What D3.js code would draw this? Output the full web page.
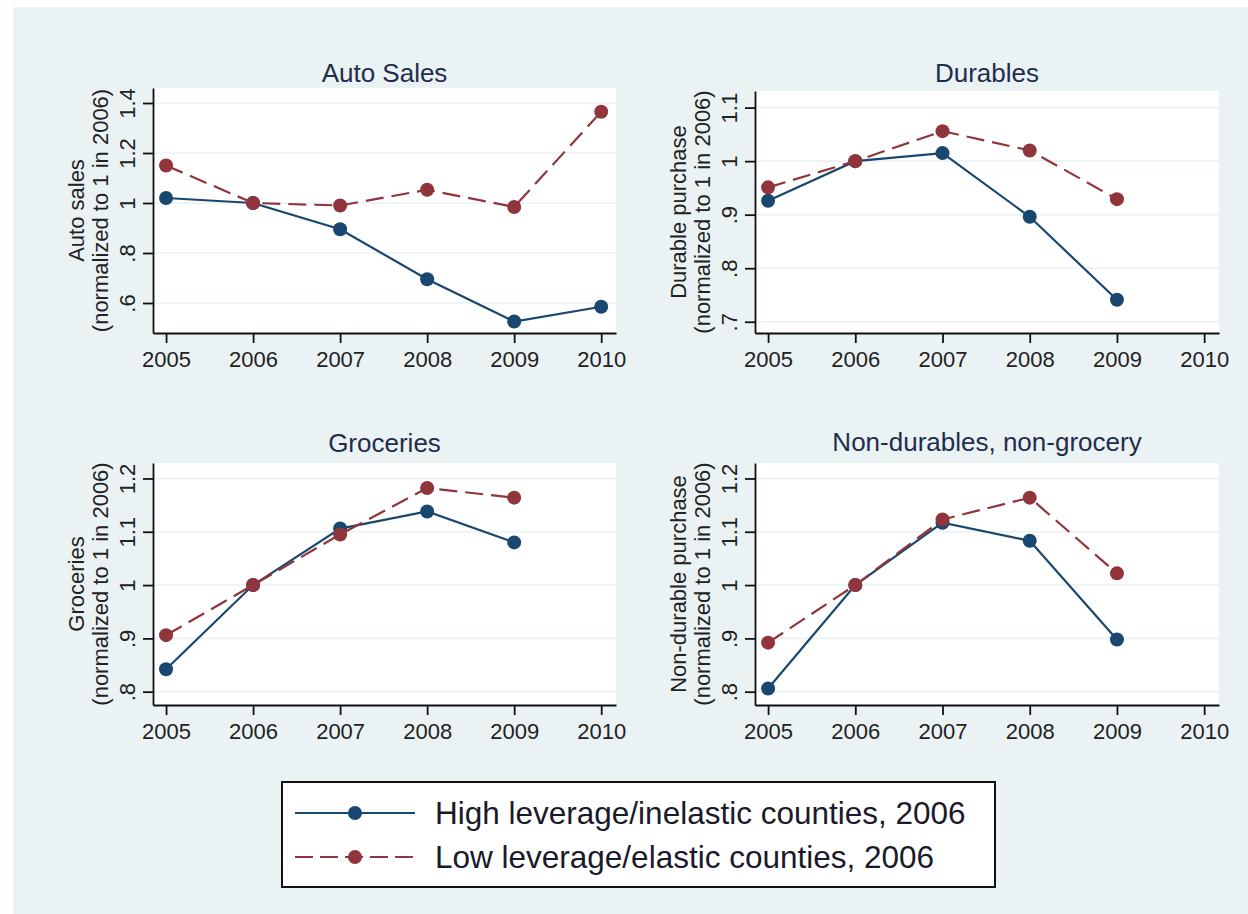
<!DOCTYPE html>
<html>

<head>
    <script src='https://d3js.org/d3.v7.min.js'></script>
    <style>
        body { margin: 0; background: #fff; }
        svg { display: block; font-family: 'Liberation Sans', Arial, sans-serif; }
    </style>
</head>

<body>
    <svg width='1248' height='914'></svg>
</body>

<script>

    // the data

    var years = [2005, 2006, 2007, 2008, 2009, 2010];

    var autoHigh = [1.02, 1.0, 0.895, 0.695, 0.526, 0.585];
    var autoLow = [1.15, 1.0, 0.99, 1.053, 0.984, 1.365];

    var durHigh = [0.926, 1.0, 1.015, 0.896, 0.741];
    var durLow = [0.951, 1.0, 1.056, 1.02, 0.929];

    var groHigh = [0.842, 1.0, 1.106, 1.138, 1.08];
    var groLow = [0.906, 1.0, 1.095, 1.182, 1.164];

    var ndHigh = [0.806, 1.0, 1.117, 1.083, 0.898];
    var ndLow = [0.892, 1.0, 1.123, 1.164, 1.022];

    var autoTicks = [0.6, 0.8, 1, 1.2, 1.4];
    var autoTickLabels = ['.6', '.8', '1', '1.2', '1.4'];
    var durTicks = [0.7, 0.8, 0.9, 1, 1.1];
    var durTickLabels = ['.7', '.8', '.9', '1', '1.1'];
    var groTicks = [0.8, 0.9, 1, 1.1, 1.2];
    var groTickLabels = ['.8', '.9', '1', '1.1', '1.2'];

    var titles = ['Auto Sales', 'Durables', 'Groceries', 'Non-durables, non-grocery'];
    var yTitles = ['Auto sales', 'Durable purchase', 'Groceries', 'Non-durable purchase'];
    var yNote = '(normalized to 1 in 2006)';
    var seriesNames = ['High leverage/inelastic counties, 2006', 'Low leverage/elastic counties, 2006'];

    // stata s2color look

    var navy = '#1a476f', maroon = '#90353b', bluish = '#eaf2f3';

    var svg = d3.select('svg');

    svg.append('rect')
        .attr('x', 13).attr('y', 7)
        .attr('width', 1235).attr('height', 907)
        .attr('fill', bluish);

    // panel layout, plot region in pixels

    var panels = [
        { title: titles[0], ytitle: yTitles[0], high: autoHigh, low: autoLow, ticks: autoTicks, labels: autoTickLabels,
          left: 153, right: 616, top: 88, bottom: 333, ydom: [0.48, 1.46], titleY: 82 },
        { title: titles[1], ytitle: yTitles[1], high: durHigh, low: durLow, ticks: durTicks, labels: durTickLabels,
          left: 755, right: 1219, top: 91, bottom: 333, ydom: [0.679, 1.131], titleY: 82 },
        { title: titles[2], ytitle: yTitles[2], high: groHigh, low: groLow, ticks: groTicks, labels: groTickLabels,
          left: 153, right: 616, top: 463, bottom: 705, ydom: [0.775, 1.229], titleY: 452 },
        { title: titles[3], ytitle: yTitles[3], high: ndHigh, low: ndLow, ticks: groTicks, labels: groTickLabels,
          left: 755, right: 1219, top: 463, bottom: 705, ydom: [0.775, 1.229], titleY: 451 }
    ];

    panels.forEach(function (p) {

        var g = svg.append('g');

        var x = d3.scaleLinear().domain([2004.85, 2010.17]).range([p.left, p.right]);
        var y = d3.scaleLinear().domain(p.ydom).range([p.bottom, p.top]);

        // white plot region
        g.append('rect')
            .attr('x', p.left).attr('y', p.top)
            .attr('width', p.right - p.left).attr('height', p.bottom - p.top)
            .attr('fill', '#fff');

        // grid
        g.append('g')
            .selectAll('line')
            .data(p.ticks)
            .enter()
            .append('line')
            .attr('x1', p.left).attr('x2', p.right)
            .attr('y1', function (d) { return y(d); })
            .attr('y2', function (d) { return y(d); })
            .attr('stroke', bluish)
            .attr('stroke-width', 1.6);

        // y axis with vertical labels
        var ya = g.append('g')
            .attr('transform', 'translate(' + p.left + ',0)')
            .call(d3.axisLeft(y)
                .tickValues(p.ticks)
                .tickSize(10)
                .tickSizeOuter(0)
                .tickFormat(function (d, i) { return p.labels[i]; }));
        ya.selectAll('text')
            .attr('x', null).attr('dy', null)
            .attr('transform', 'translate(-18,0) rotate(-90)')
            .attr('text-anchor', 'middle')
            .attr('font-size', 22)
            .attr('fill', '#222');

        // x axis
        var xa = g.append('g')
            .attr('transform', 'translate(0,' + p.bottom + ')')
            .call(d3.axisBottom(x)
                .tickValues(years)
                .tickSize(10)
                .tickSizeOuter(0)
                .tickFormat(d3.format('d')));
        xa.selectAll('text')
            .attr('y', 18)
            .attr('font-size', 22)
            .attr('fill', '#222');

        g.selectAll('.domain, .tick line')
            .attr('stroke', '#111')
            .attr('stroke-width', 1.8);

        // titles
        g.append('text')
            .attr('x', (p.left + p.right) / 2)
            .attr('y', p.titleY)
            .attr('text-anchor', 'middle')
            .attr('font-size', 26)
            .attr('fill', '#1f2d4d')
            .text(p.title);

        var cy = (p.top + p.bottom) / 2;
        g.append('text')
            .attr('transform', 'translate(' + (p.left - 69) + ',' + cy + ') rotate(-90)')
            .attr('text-anchor', 'middle')
            .attr('font-size', 22)
            .attr('fill', '#222')
            .text(p.ytitle);
        g.append('text')
            .attr('transform', 'translate(' + (p.left - 45) + ',' + cy + ') rotate(-90)')
            .attr('text-anchor', 'middle')
            .attr('font-size', 22)
            .attr('fill', '#222')
            .text(yNote);

        // the two series, high first then low on top
        var series = [
            { vals: p.high, color: navy, dash: null },
            { vals: p.low, color: maroon, dash: '18,8' }
        ];

        series.forEach(function (s) {
            var pts = s.vals.map(function (v, i) { return { year: years[i], value: v }; });

            g.append('path')
                .datum(pts)
                .attr('fill', 'none')
                .attr('stroke', s.color)
                .attr('stroke-width', 2.2)
                .attr('stroke-dasharray', s.dash)
                .attr('d', d3.line()
                    .x(function (d) { return x(d.year); })
                    .y(function (d) { return y(d.value); }));

            g.append('g')
                .selectAll('circle')
                .data(pts)
                .enter()
                .append('circle')
                .attr('cx', function (d) { return x(d.year); })
                .attr('cy', function (d) { return y(d.value); })
                .attr('r', 7)
                .attr('fill', s.color);
        });
    });

    // legend box

    var leg = svg.append('g');
    leg.append('rect')
        .attr('x', 282).attr('y', 782)
        .attr('width', 713).attr('height', 105)
        .attr('fill', '#fff')
        .attr('stroke', '#111')
        .attr('stroke-width', 2);

    var legItems = [
        { name: seriesNames[0], color: navy, dash: null },
        { name: seriesNames[1], color: maroon, dash: '18,7' }
    ];

    var legY = d3.scalePoint().domain([0, 1]).range([813, 857]);

    legItems.forEach(function (d, i) {
        leg.append('line')
            .attr('x1', 295).attr('x2', 415)
            .attr('y1', legY(i)).attr('y2', legY(i))
            .attr('stroke', d.color)
            .attr('stroke-width', 2.2)
            .attr('stroke-dasharray', d.dash);
        leg.append('circle')
            .attr('cx', 355).attr('cy', legY(i))
            .attr('r', 7)
            .attr('fill', d.color);
        leg.append('text')
            .attr('x', 435).attr('y', legY(i))
            .attr('dy', '0.36em')
            .attr('font-size', 31.5)
            .attr('fill', '#1a1a2a')
            .text(d.name);
    });

</script>

</html>
